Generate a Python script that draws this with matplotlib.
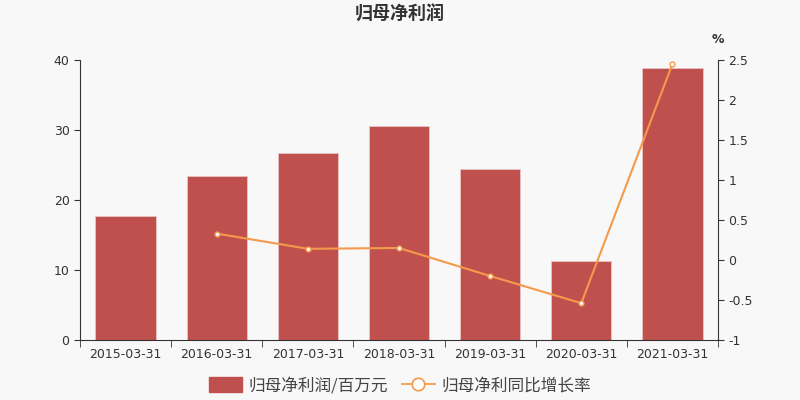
import matplotlib.pyplot as plt
from matplotlib.lines import Line2D
from matplotlib.patches import Patch
import numpy as np

plt.rcParams['font.family'] = ['Noto Sans CJK SC', 'DejaVu Sans']

# 数据
dates = ['2015-03-31', '2016-03-31', '2017-03-31', '2018-03-31',
         '2019-03-31', '2020-03-31', '2021-03-31']
profit = [17.75, 23.5, 26.7, 30.6, 24.4, 11.3, 38.9]
growth = [None, 0.33, 0.14, 0.15, -0.20, -0.54, 2.45]

bar_color = '#c0504d'
line_color = '#f59a4a'
text_color = '#333333'

fig = plt.figure(figsize=(8, 4), dpi=100, facecolor='#f8f8f8')
ax = fig.add_axes([0.1, 0.15, 0.7975, 0.7])
ax.set_facecolor('#f8f8f8')

x = np.arange(len(dates))
ax.bar(x, profit, width=0.66, color=bar_color, edgecolor='#e8c4c3', linewidth=0.6, zorder=2)
ax.set_xlim(-0.5, len(dates) - 0.5)
ax.set_ylim(0, 40)
ax.set_yticks([0, 10, 20, 30, 40])
ax.set_xticks(x)
ax.set_xticklabels(dates, fontsize=9, color=text_color, family=['DejaVu Sans'])
ax.set_xticks(np.arange(-0.5, len(dates), 1), minor=True)
ax.tick_params(axis='x', which='major', length=0, pad=6)
ax.tick_params(axis='x', which='minor', length=5, color=text_color)
ax.tick_params(axis='y', labelsize=9, labelcolor=text_color, length=4, color=text_color)
for lab in ax.get_yticklabels():
    lab.set_family('DejaVu Sans')
for s in ['top', 'right']:
    ax.spines[s].set_visible(False)
for s in ['left', 'bottom']:
    ax.spines[s].set_color(text_color)

ax2 = ax.twinx()
gx = [i for i, g in enumerate(growth) if g is not None]
gy = [g for g in growth if g is not None]
ax2.plot(gx, gy, color=line_color, linewidth=1.5, marker='o', markersize=3.5,
         markerfacecolor='white', markeredgecolor=line_color, markeredgewidth=1, zorder=3)
ax2.set_ylim(-1, 2.5)
ax2.set_yticks([-1, -0.5, 0, 0.5, 1, 1.5, 2, 2.5])
ax2.set_yticklabels(['-1', '-0.5', '0', '0.5', '1', '1.5', '2', '2.5'],
                    family=['DejaVu Sans'])
ax2.tick_params(axis='y', labelsize=9, labelcolor=text_color, length=4, color=text_color)
for s in ['top', 'left', 'bottom']:
    ax2.spines[s].set_visible(False)
ax2.spines['right'].set_color(text_color)
ax2.text(1.0, 1.05, '%', transform=ax2.transAxes, fontsize=9, color=text_color,
         ha='center', va='bottom', family=['DejaVu Sans'], fontweight='bold')

fig.text(0.5, 0.965, '归母净利润', ha='center', va='center', fontsize=13,
         fontweight='bold', color=text_color)

# 图例
h1 = Patch(facecolor=bar_color, edgecolor=bar_color)
h2 = Line2D([], [], color=line_color, linewidth=1.3, marker='o', markersize=9,
            markerfacecolor='white', markeredgecolor=line_color, markeredgewidth=1.2)
fig.legend([h1, h2], ['归母净利润/百万元', '归母净利同比增长率'], loc='center',
           bbox_to_anchor=(0.5, 0.035), ncol=2, frameon=False, fontsize=12,
           handlelength=2.0, handleheight=1.0, columnspacing=0.8, handletextpad=0.4,
           labelcolor='#444444')

plt.savefig('out.png', dpi=100, facecolor=fig.get_facecolor())
